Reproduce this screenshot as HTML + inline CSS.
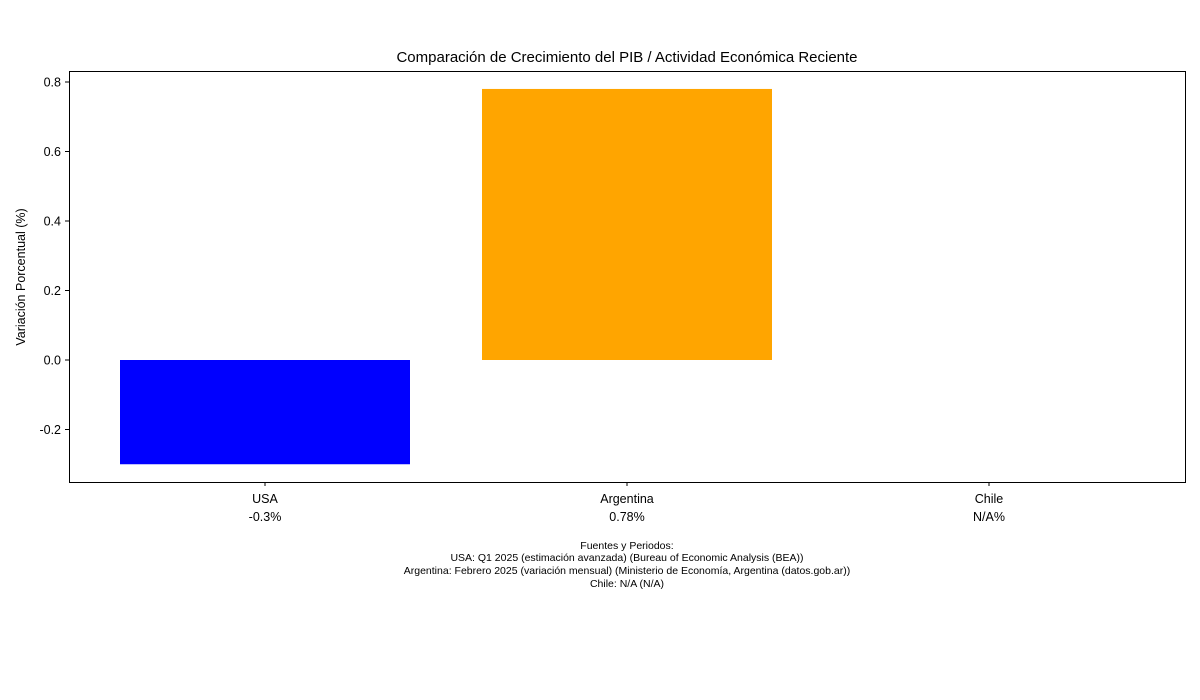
<!DOCTYPE html>
<html><head><meta charset="utf-8"><style>
body{margin:0;background:#fff;}
svg{display:block;font-family:"Liberation Sans","DejaVu Sans",sans-serif;}
</style></head><body>
<svg id="chart" width="1200" height="700">
<rect width="1200" height="700" fill="#fff"/>
<text x="627" y="62" font-size="15" text-anchor="middle">Comparación de Crecimiento del PIB / Actividad Económica Reciente</text>
<text transform="translate(25,277) rotate(-90)" font-size="12.5" text-anchor="middle">Variación Porcentual (%)</text>
<g id="bars"></g>
<g id="yticks"></g>
<g id="xticks"></g>
<rect x="69.5" y="71.5" width="1116" height="411" fill="none" stroke="#000" stroke-width="1"/>
<g font-size="10.5" text-anchor="middle">
<text x="627" y="549">Fuentes y Periodos:</text>
<text x="627" y="561">USA: Q1 2025 (estimación avanzada) (Bureau of Economic Analysis (BEA))</text>
<text x="627" y="574">Argentina: Febrero 2025 (variación mensual) (Ministerio de Economía, Argentina (datos.gob.ar))</text>
<text x="627" y="587">Chile: N/A (N/A)</text>
</g>
</svg>
<script>
const categories=["USA","Argentina","Chile"];
const values=[-0.3,0.78,null];
const valueLabels=["-0.3%","0.78%","N/A%"];
const colors=["#0000ff","#ffa500","#888888"];
const yTicks=[-0.2,0,0.2,0.4,0.6,0.8];
const yTickLabels=["-0.2","0.0","0.2","0.4","0.6","0.8"];
const NS="http://www.w3.org/2000/svg";
function y(v){return 360-v*347.5;}
function x(i){return 265+i*362;}
const bw=290;
const bars=document.getElementById('bars'),yt=document.getElementById('yticks'),xt=document.getElementById('xticks');
function mk(tag,attrs,parent){const e=document.createElementNS(NS,tag);for(const k in attrs)e.setAttribute(k,attrs[k]);parent.appendChild(e);return e;}
categories.forEach((c,i)=>{
 if(values[i]!==null){
  const r=mk('rect',{x:x(i)-bw/2,y:Math.min(y(0),y(values[i])),width:bw,height:Math.abs(y(values[i])-y(0)),fill:colors[i]},bars);
  
  
 }
 const l=mk('line',{x1:x(i),x2:x(i),y1:482,y2:486,stroke:'#000'},xt);
 
 
 const t=mk('text',{x:x(i),y:503,'font-size':12.5,'text-anchor':'middle'},xt);
 t.textContent=c;
 
 
 const t2=mk('text',{x:x(i),y:521,'font-size':12.5,'text-anchor':'middle'},xt);
 t2.textContent=valueLabels[i];
 
 
});
yTicks.forEach((v,i)=>{
 const l=mk('line',{x1:65,x2:69,y1:y(v),y2:y(v),stroke:'#000'},yt);
 
 
 const t=mk('text',{x:61,y:y(v)+4.5,'font-size':12.5,'text-anchor':'end'},yt);
 t.textContent=yTickLabels[i];
 
 
});
</script>
</body></html>
